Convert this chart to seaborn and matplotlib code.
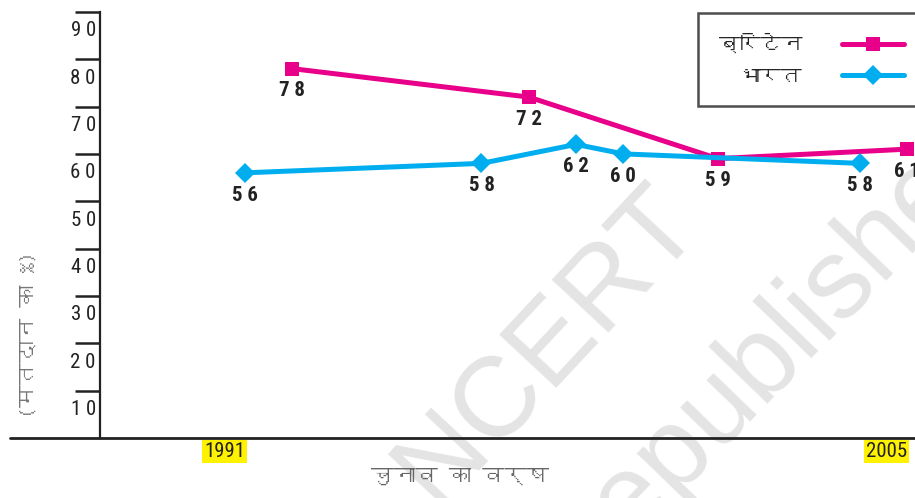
import matplotlib
matplotlib.use("Agg")
import matplotlib.pyplot as plt
import matplotlib.transforms as mtransforms
from matplotlib import font_manager, ft2font
from matplotlib.lines import Line2D
import seaborn as sns
import pandas as pd

# data
uk_years = [1992, 1997, 2001, 2005]
uk_turnout = [78, 72, 59, 61]
india_years = [1991, 1996, 1998, 1999, 2004]
india_turnout = [56, 58, 62, 60, 58]
series_names = ["ब्रिटेन", "भारत"]
y_ticks = [10, 20, 30, 40, 50, 60, 70, 80, 90]
x_ticks = [1991, 2005]
x_label = "चुनाव का वर्ष"
y_label = "(मतदान का %)"

PINK = "#E8008A"
CYAN = "#00AEEF"
INK = "#222222"


def find_font(ch):
    # look for any installed font that has the Devanagari glyph
    for f in font_manager.fontManager.ttflist:
        try:
            if ord(ch) in ft2font.FT2Font(f.fname).get_charmap():
                return f.name
        except Exception:
            pass
    return None


def installed(names):
    have = {f.name for f in font_manager.fontManager.ttflist}
    return [n for n in names if n in have]


sns.set_theme(style="white")
narrow = installed(["Roboto Condensed", "Liberation Sans Narrow", "Roboto", "DejaVu Sans"])
deva = find_font("भ")
deva_family = [deva, "DejaVu Sans"] if deva else ["DejaVu Sans"]
plt.rcParams["font.family"] = narrow

df = pd.concat([
    pd.DataFrame({"year": uk_years, "turnout": uk_turnout, "country": series_names[0]}),
    pd.DataFrame({"year": india_years, "turnout": india_turnout, "country": series_names[1]}),
])

fig = plt.figure(figsize=(9.15, 4.98), dpi=100)
ax = fig.add_axes([100 / 915, 60 / 498, 815 / 915, 438 / 498])
ax.patch.set_alpha(0)

# watermark behind everything
fig.text(548 / 915, 1 - 345 / 498, "NCERT", rotation=47, fontsize=82, color="#e4e4e4",
         ha="center", va="center", family="Liberation Sans", zorder=-5)
fig.text(770 / 915, 1 - 350 / 498, "Republished", rotation=46, fontsize=82, color="#e4e4e4",
         ha="center", va="center", family="Liberation Sans", zorder=-5)

palette = {series_names[0]: PINK, series_names[1]: CYAN}
markers = {series_names[0]: "s", series_names[1]: "D"}
sns.lineplot(data=df, x="year", y="turnout", hue="country", style="country",
             palette=palette, markers=markers, dashes=False, linewidth=3.6,
             markersize=10.5, markeredgewidth=0, ax=ax, legend=False, zorder=3)

# value labels under each point
for yrs, vals in [(uk_years, uk_turnout), (india_years, india_turnout)]:
    for x, v in zip(yrs, vals):
        ax.annotate(" ".join(str(v)), (x, v), xytext=(0, -16), textcoords="offset points",
                    ha="center", va="center", fontsize=15, fontweight="bold", color=INK)

ax.set_xlim(1987.93, 2005.17)
ax.set_ylim(0, 92.5)

for s in ["top", "right", "bottom"]:
    ax.spines[s].set_visible(False)
ax.spines["left"].set_bounds(0, 90)
ax.spines["left"].set_linewidth(1.6)
ax.spines["left"].set_color(INK)
ax.axhline(0, xmin=-90 / 815, xmax=1, color=INK, lw=2, clip_on=False, zorder=4)

ax.set_yticks(y_ticks)
ax.set_yticklabels([" ".join(str(t)) for t in y_ticks])
ax.tick_params(axis="y", length=18, width=1.8, color=INK, direction="out",
               pad=-15, labelsize=15, labelcolor=INK, left=True)
shift = mtransforms.ScaledTranslation(0, -0.17, fig.dpi_scale_trans)
for lab in ax.get_yticklabels():
    lab.set_transform(lab.get_transform() + shift)

ax.set_xticks(x_ticks)
ax.set_xticklabels([str(t) for t in x_ticks])
ax.tick_params(axis="x", length=0, pad=3, labelsize=15, labelcolor=INK)
for lab in ax.get_xticklabels():
    lab.set_ha("right")
    lab.set_bbox(dict(facecolor="#FFF200", edgecolor="none", pad=1.5))

ax.set_xlabel(x_label, family=deva_family, fontsize=16, color="#666666")
ax.xaxis.set_label_coords(360 / 815, -30 / 438)
ax.set_ylabel(y_label, family=deva_family, fontsize=16, color="#777777", fontweight="bold")
ax.yaxis.set_label_coords(-62 / 815, 103 / 438)

handles = [
    Line2D([], [], color=PINK, lw=3.6, marker="s", markersize=10.5, markeredgewidth=0),
    Line2D([], [], color=CYAN, lw=3.6, marker="D", markersize=10.5, markeredgewidth=0),
]
leg = ax.legend(handles, series_names, loc="upper right", markerfirst=False,
                bbox_to_anchor=(925 / 915, 1 - 13 / 498), bbox_transform=fig.transFigure,
                borderaxespad=0, borderpad=1.0, handlelength=3.0, handletextpad=1.9,
                labelspacing=0.65, fancybox=False, frameon=True,
                prop={"family": deva_family, "size": 15})
leg.get_frame().set_edgecolor(INK)
leg.get_frame().set_linewidth(1.8)
leg.get_frame().set_facecolor("white")

fig.savefig("out.png", dpi=100)
